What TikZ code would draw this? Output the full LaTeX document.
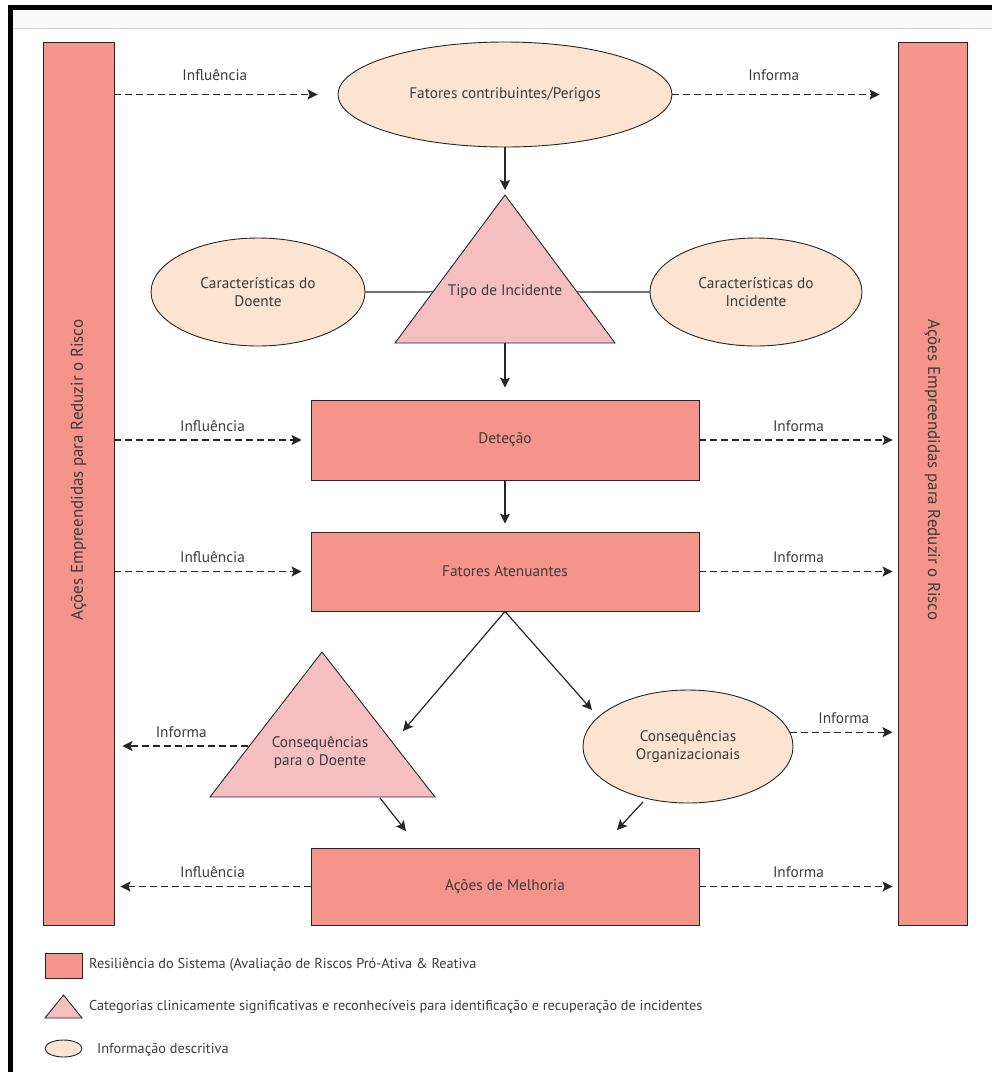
\documentclass[tikz,border=0pt]{standalone}
\usepackage{fontspec}
\setmainfont{PT Sans}
\usepackage{tikz}
\usetikzlibrary{arrows.meta, positioning, shapes.geometric, calc}
\definecolor{riskred}{RGB}{244, 148, 138}
\definecolor{catpink}{RGB}{245, 190, 192}
\definecolor{infopeach}{RGB}{252, 228, 208}
\definecolor{txtgray}{RGB}{60, 60, 60}

\begin{document}
\begin{tikzpicture}[x=1pt, y=-1pt,
  bar/.style={draw=black!85, fill=riskred, line width=0.9pt, inner sep=0pt},
  tri/.style={draw=black!85, fill=catpink, line width=0.9pt, line join=miter},
  info/.style={ellipse, draw=black!85, fill=infopeach, line width=0.9pt, inner sep=0pt},
  txt/.style={font=\fontsize{15.3}{18}\selectfont, text=txtgray, align=center},
  side/.style={font=\fontsize{17}{20}\selectfont, text=txtgray},
  lbl/.style={font=\fontsize{15.3}{18}\selectfont, text=txtgray, inner sep=0pt},
  lgd/.style={font=\fontsize{14.3}{17}\selectfont, text=txtgray, inner sep=0pt},
  arr/.style={-{Stealth[length=10pt, width=10pt, inset=2pt]}, line width=1.2pt, draw=black!85},
  dasharr/.style={arr, line width=1.3pt, dash pattern=on 7pt off 4pt},
]
  \useasboundingbox (0,0) rectangle (992,1072);

  % Window frame
  \fill[gray!4] (10,7) rectangle (992,28);
  \draw[gray!35, line width=1pt] (12,28) -- (992,28);
  \draw[black, line width=5pt, line join=miter] (10.5,1072) -- (10.5,7.5) -- (992,7.5);

  % Side bars
  \node[bar, minimum width=71pt, minimum height=883pt] (lbar) at (78.5,483.5) {};
  \node[side, rotate=90] (ltxt) at (78.5,470) {Ações Empreendidas para Reduzir o Risco};
  \node[bar, minimum width=69pt, minimum height=883pt] (rbar) at (932.5,483.5) {};
  \node[side, rotate=-90] (rtxt) at (932.5,470) {Ações Empreendidas para Reduzir o Risco};

  % Contributing factors
  \node[info, txt, minimum width=334pt, minimum height=105pt] (fcp) at (505,94.5) {Fatores contribuintes/Perigos};
  \draw[dasharr, shorten >=20pt] (lbar.east |- fcp.west) -- (fcp.west)
    node[lbl, pos=0.45, above=13pt] (infl1) {Influência};
  \draw[dasharr, shorten >=18pt] (fcp.east) -- (rbar.west |- fcp.east)
    node[lbl, pos=0.45, above=13pt] (info1) {Informa};

  % Incident type
  \coordinate (tiA) at (505,195);
  \coordinate (tiL) at (395,343);
  \coordinate (tiR) at (615,343);
  \coordinate (tiB) at (505,343);
  \draw[tri] (tiA) -- (tiR) -- (tiL) -- cycle;
  \node[txt] (tipo) at (505,292) {Tipo de Incidente};
  \coordinate (tiLm) at ($(tiA)!0.655!(tiL)$);
  \coordinate (tiRm) at ($(tiA)!0.655!(tiR)$);
  \draw[arr, shorten >=5pt] (fcp.south) -- (tiA);

  \node[info, txt, minimum width=214pt, minimum height=108pt] (cdoe) at (258,292) {Características do\\Doente};
  \node[info, txt, minimum width=212pt, minimum height=108pt] (cinc) at (756,292) {Características do\\Incidente};
  \draw[line width=1.1pt, black!85] (cdoe.east) -- (tiLm);
  \draw[line width=1.1pt, black!85] (cinc.west) -- (tiRm);

  % Detection
  \node[bar, txt, minimum width=388pt, minimum height=80pt] (det) at (505,440) {Deteção};
  \draw[arr, shorten >=12pt] (tiB) -- (det.north);
  \draw[dasharr, shorten >=9pt] (lbar.east |- det.west) -- (det.west)
    node[lbl, midway, above=8pt] (infl2) {Influência};
  \draw[dasharr, shorten >=5pt] (det.east) -- (rbar.west |- det.east)
    node[lbl, midway, above=8pt] (info2) {Informa};

  % Mitigating factors
  \node[bar, txt, minimum width=388pt, minimum height=79pt] (fat) at (505,571.5) {Fatores Atenuantes};
  \draw[arr, shorten >=8pt] (det.south) -- (fat.north);
  \draw[dasharr, shorten >=9pt] (lbar.east |- fat.west) -- (fat.west)
    node[lbl, midway, above=8pt] (infl3) {Influência};
  \draw[dasharr, shorten >=5pt] (fat.east) -- (rbar.west |- fat.east)
    node[lbl, midway, above=8pt] (info3) {Informa};

  % Consequences
  \coordinate (cdA) at (322,652);
  \coordinate (cdL) at (210,797);
  \coordinate (cdR) at (435,797);
  \draw[tri] (cdA) -- (cdR) -- (cdL) -- cycle;
  \node[txt] (consd) at (320,752) {Consequências\\para o Doente};
  \node[info, txt, minimum width=210pt, minimum height=113pt] (corg) at (688,746.5) {Consequências\\Organizacionais};

  \coordinate (consdIn) at (403,731);
  \coordinate (corgIn) at (592,710);
  \draw[arr] (fat.south) -- (consdIn);
  \draw[arr] (fat.south) -- (corgIn);

  \coordinate (consdOut) at (248,746);
  \draw[dasharr, shorten >=8pt] (consdOut) -- (lbar.east |- consdOut)
    node[lbl, midway, above=8pt] (info4) {Informa};
  \draw[dasharr, shorten >=5pt] (corg.8) -- (rbar.west |- corg.8)
    node[lbl, midway, above=8pt] (info5) {Informa};

  % Improvement actions
  \node[bar, txt, minimum width=388pt, minimum height=77pt] (melh) at (505,886.5) {Ações de Melhoria};
  \coordinate (consdBot) at (380,798);
  \coordinate (melhInL) at (406,831);
  \coordinate (corgBot) at (643,802);
  \coordinate (melhInR) at (617,830);
  \draw[arr] (consdBot) -- (melhInL);
  \draw[arr] (corgBot) -- (melhInR);
  \draw[dasharr, shorten >=6pt] (melh.west) -- (lbar.east |- melh.west)
    node[lbl, midway, above=8pt] (infl4) {Influência};
  \draw[dasharr, shorten >=5pt] (melh.east) -- (rbar.west |- melh.east)
    node[lbl, midway, above=8pt] (info6) {Informa};

  % Legend
  \node[bar, minimum width=37pt, minimum height=25pt] (legbox) at (63.5,965.5) {};
  \node[lgd, anchor=west] (legboxtxt) at (89,965) {Resiliência do Sistema (Avaliação de Riscos Pró-Ativa \& Reativa};
  \draw[tri] (45,1018) -- (63.5,995) -- (82,1018) -- cycle;
  \node[lgd, anchor=west] (legtritxt) at (89,1007) {Categorias clinicamente significativas e reconhecíveis para identificação e recuperação de incidentes};
  \node[info, minimum width=37pt, minimum height=17pt] (legell) at (63.5,1048.5) {};
  \node[lgd, anchor=west] (legelltxt) at (97,1050) {Informação descritiva};

\end{tikzpicture}
\end{document}
